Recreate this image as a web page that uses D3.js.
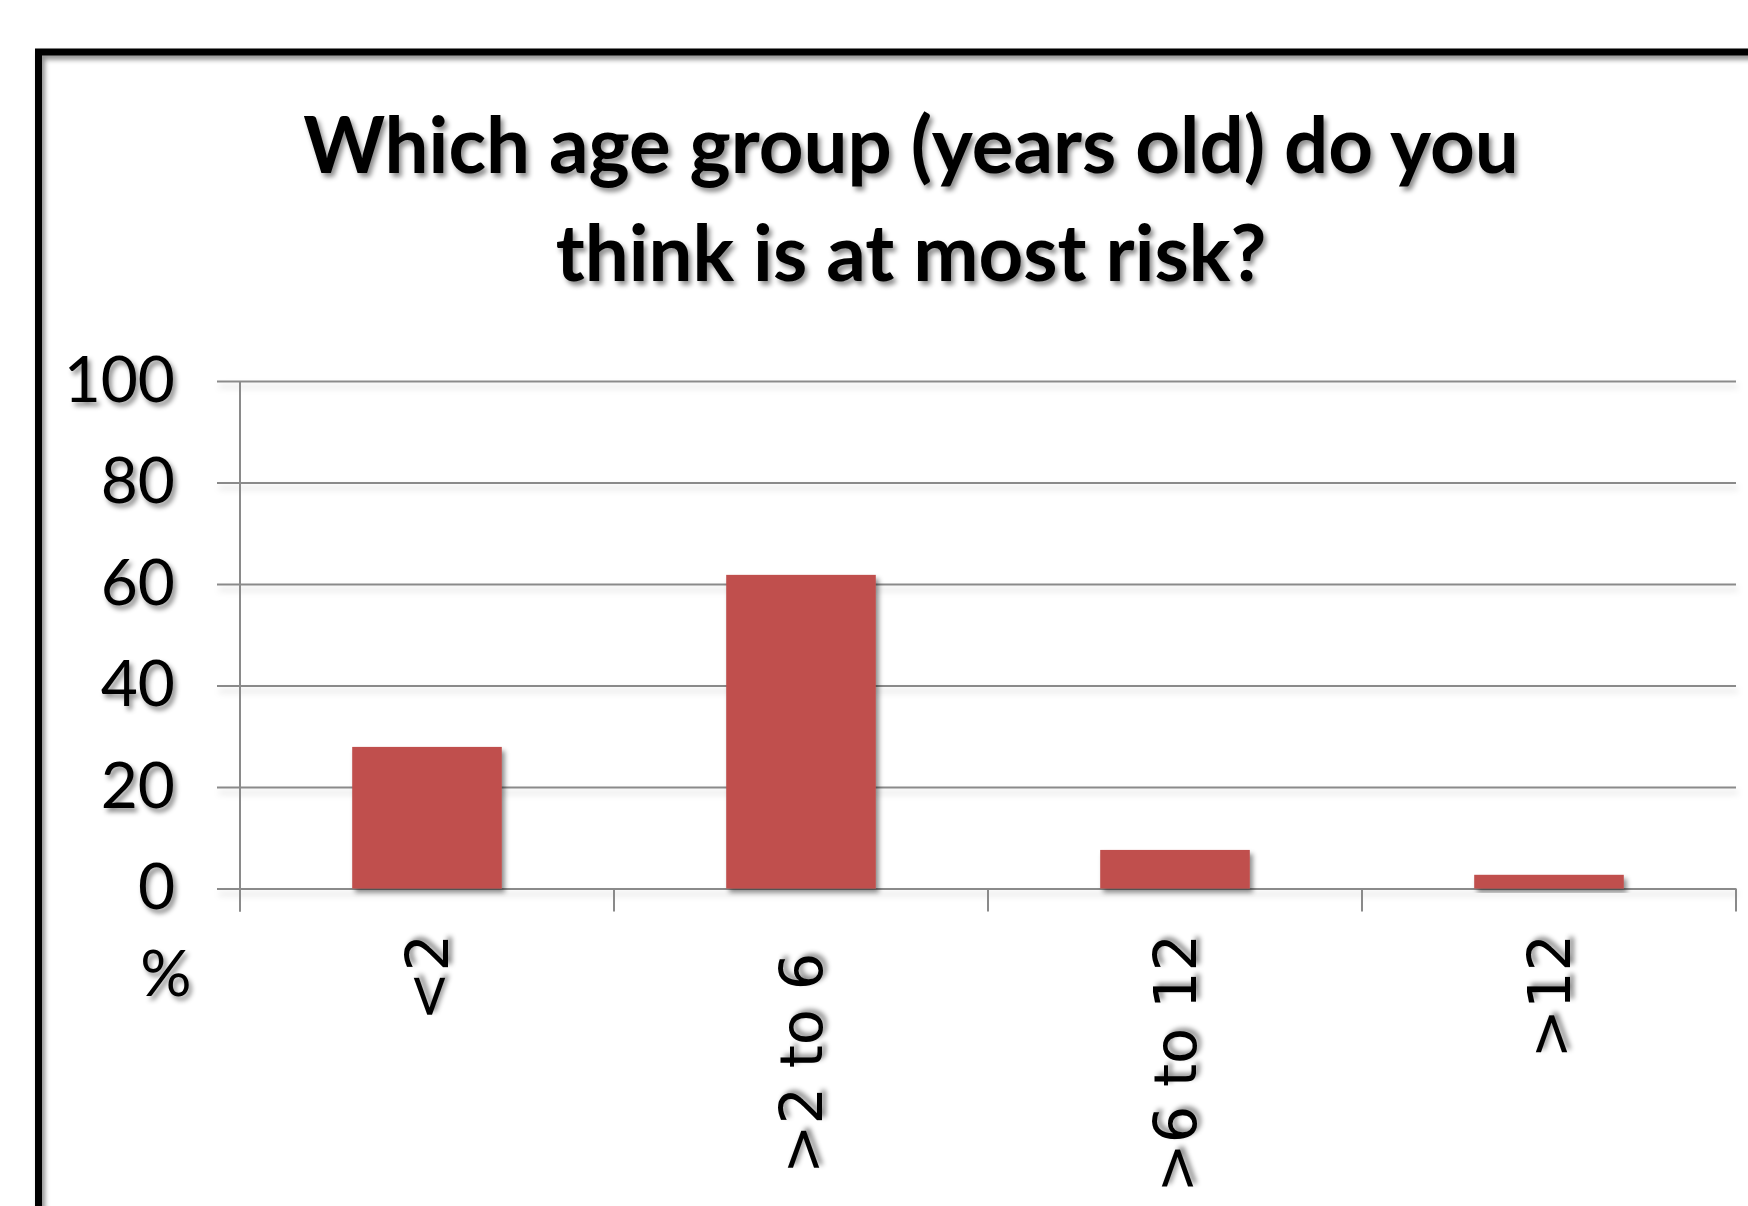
<!DOCTYPE html>
<html>
<head>
<meta charset="utf-8">
<script src="https://cdn.jsdelivr.net/npm/d3@7"></script>
<style>
  html, body { margin: 0; padding: 0; background: #fff; }
  svg { display: block; }
</style>
</head>
<body>
<div id="chart"></div>
<script>
// data
const categories = ["<2", ">2 to 6 ", ">6 to 12", ">12"];
const percents = [27.9, 61.8, 7.6, 2.7];
const yTicks = [0, 20, 40, 60, 80, 100];
const titleLines = ["Which age group (years old) do you", "think is at most risk?"];
const yUnit = "%";

const W = 1748, H = 1206;
const plotLeft = 240, plotRight = 1736, plotTop = 381, plotBottom = 888.5;

let svg = d3.select("#chart")
            .append("svg")
            .attr("width", W)
            .attr("height", H);

// soft drop shadow used on almost everything
let defs = svg.append("defs");
defs.append("filter")
    .attr("id", "shadow")
    .attr("x", "-10%").attr("y", "-10%")
    .attr("width", "130%").attr("height", "140%")
    .append("feDropShadow")
    .attr("dx", 3).attr("dy", 4)
    .attr("stdDeviation", 2.5)
    .attr("flood-color", "#000")
    .attr("flood-opacity", 0.45);

defs.append("filter")
    .attr("id", "lineShadow")
    .attr("x", "-5%").attr("y", "-500%")
    .attr("width", "110%").attr("height", "1100%")
    .append("feDropShadow")
    .attr("dx", 2).attr("dy", 5)
    .attr("stdDeviation", 3)
    .attr("flood-color", "#000")
    .attr("flood-opacity", 0.18);

// outer frame (runs off the right and bottom edge)
svg.append("rect")
    .attr("x", 38.5)
    .attr("y", 52)
    .attr("width", W + 100)
    .attr("height", H + 100)
    .attr("fill", "none")
    .attr("stroke", "#000")
    .attr("stroke-width", 7)
    .attr("filter", "url(#shadow)");

// title
svg.append("g")
    .attr("filter", "url(#shadow)")
    .selectAll("text")
    .data(titleLines)
    .join("text")
    .attr("x", 911)
    .attr("y", (d, i) => 173 + i * 108)
    .attr("text-anchor", "middle")
    .style("font-family", "Lato, 'Open Sans', sans-serif")
    .style("font-weight", "bold")
    .style("font-size", "78px")
    .style("fill", "#000")
    .text(d => d);

const x = d3.scaleBand()
            .domain(categories)
            .range([plotLeft, plotRight])
            .paddingInner(0.6)
            .paddingOuter(0.3);

const y = d3.scaleLinear()
            .domain([0, 100])
            .range([plotBottom, plotTop]);

// gridlines
let grid = svg.append("g")
              .attr("transform", "translate(" + (plotLeft - 23) + ",0)")
              .attr("filter", "url(#lineShadow)")
              .call(d3.axisRight(y).tickValues(yTicks).tickSize(plotRight - plotLeft + 23).tickFormat(""));
grid.select(".domain").remove();
grid.selectAll("line").attr("stroke", "#8a8a8a").attr("stroke-width", 2);

// y axis with labels
let yAxis = svg.append("g")
               .attr("transform", "translate(" + plotLeft + ",0)")
               .call(d3.axisLeft(y).tickValues(yTicks).tickSize(23).tickPadding(42));
yAxis.select(".domain")
     .attr("d", "M0," + plotTop + "V" + (plotBottom + 23))
     .attr("stroke", "#8a8a8a")
     .attr("stroke-width", 2);
yAxis.selectAll("line").attr("stroke", "none");
yAxis.selectAll("text")
     .attr("filter", "url(#shadow)")
     .style("font-family", "Lato, 'Open Sans', sans-serif")
     .style("font-size", "64px")
     .style("fill", "#000");

// % unit under the axis
svg.append("text")
    .attr("x", 166)
    .attr("y", 996)
    .attr("text-anchor", "middle")
    .attr("filter", "url(#shadow)")
    .style("font-family", "Lato, 'Open Sans', sans-serif")
    .style("font-size", "64px")
    .text(yUnit);

// category separators on the x axis
const step = x.step();
const bounds = categories.map(d => x(d) - (step - x.bandwidth()) / 2).concat([plotRight]);
svg.append("g")
    .selectAll("line")
    .data(bounds)
    .join("line")
    .attr("x1", d => d).attr("x2", d => d)
    .attr("y1", plotBottom).attr("y2", plotBottom + 23)
    .attr("stroke", "#8a8a8a")
    .attr("stroke-width", 2);

// bars
svg.append("g")
    .selectAll("rect")
    .data(percents)
    .join("rect")
    .attr("x", (d, i) => x(categories[i]))
    .attr("y", d => y(d))
    .attr("width", x.bandwidth())
    .attr("height", d => y(0) - y(d))
    .attr("fill", "#C0504D")
    .attr("filter", "url(#shadow)");

// rotated category labels
svg.append("g")
    .selectAll("text")
    .data(categories)
    .join("text")
    .attr("transform", d => "translate(" + (x(d) + x.bandwidth() / 2) + ",934) rotate(-90)")
    .attr("text-anchor", "end")
    .attr("dy", "0.36em")
    .attr("filter", "url(#shadow)")
    .style("white-space", "pre")
    .style("font-family", "'DejaVu Sans', Verdana, sans-serif")
    .style("font-size", "59px")
    .style("fill", "#000")
    .text(d => d);
</script>
</body>
</html>
